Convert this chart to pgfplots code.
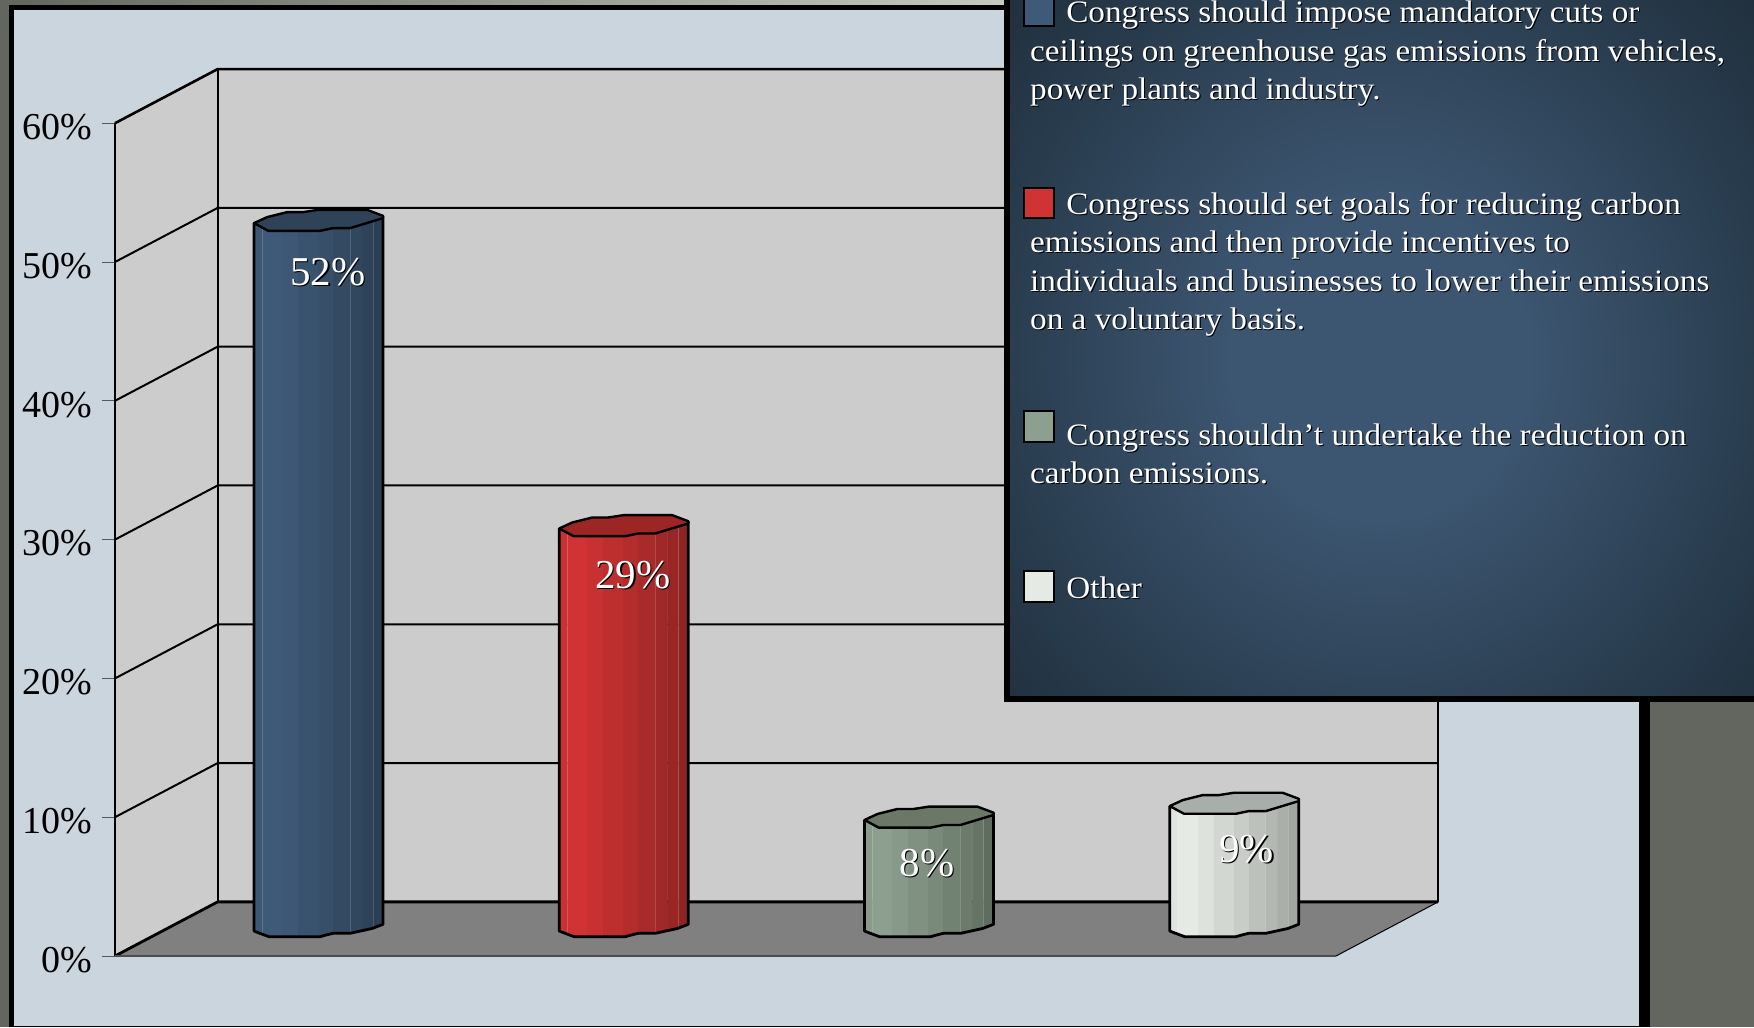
\documentclass[border=0pt]{standalone}
\usepackage{fontspec}
\setmainfont{Liberation Serif}
\newfontfamily\lgd[FakeStretch=1.065]{Liberation Serif}
\usepackage{pgfplots}
\pgfplotsset{compat=1.18}
\definecolor{bgc}{HTML}{62665F}
\definecolor{stripc}{HTML}{C4CAC0}
\definecolor{panelc}{HTML}{CBD5DE}
\definecolor{wallc}{HTML}{CCCCCC}
\definecolor{floorc}{HTML}{808080}
\definecolor{glowa}{HTML}{3C5570}
\definecolor{glowb}{HTML}{273A4B}
\definecolor{glowc}{HTML}{1C2935}
\definecolor{blueL}{HTML}{3F5A78}\definecolor{blueD}{HTML}{2B3F54}\definecolor{blueT}{HTML}{2E4258}
\definecolor{redL}{HTML}{CF3333}\definecolor{redD}{HTML}{8E2424}\definecolor{redT}{HTML}{9C2626}
\definecolor{greenL}{HTML}{8D9F8E}\definecolor{greenD}{HTML}{5F6D5F}\definecolor{greenT}{HTML}{6B7868}
\definecolor{greyL}{HTML}{E6EAE5}\definecolor{greyD}{HTML}{A1A5A0}\definecolor{greyT}{HTML}{A8AEA9}
\pgfdeclareradialshading{panelglow}{\pgfpointorigin}{color(0bp)=(glowa);color(10bp)=(glowa);color(27bp)=(glowb);color(38bp)=(glowc);color(100bp)=(glowc)}
% One stripe of a cylinder body: #1 category, #2 value, #3 colour, #4 #5 left/right offset (px),
% #6 #7 bottom offset at left/right (px), #8 top offset (px)
\newcommand\st[8]{\addplot[fill=#3,draw=#3,line width=.2pt] table[row sep=\\,
  x expr={#1+(\thisrow{d}-64.5)/305.25},
  y expr={1.8+\thisrow{k}*#2-\thisrow{o}/13.88}]
  {d o k\\ #4 #6 0\\ #5 #7 0\\ #5 #8 1\\ #4 #8 1\\} --cycle;}
% A cylinder: #1 category, #2 value, #3 light, #4 dark, #5 top
\newcommand\cyl[5]{%
  \st{#1}{#2}{#3!92!#4}{0}{8}{0}{3}{0}
  \st{#1}{#2}{#3}{8}{15}{3}{5.7}{0}
  \st{#1}{#2}{#3}{15}{28}{5.7}{5.7}{0}
  \st{#1}{#2}{#3!88!#4}{28}{44}{5.7}{5.7}{0}
  \st{#1}{#2}{#3!72!#4}{44}{64}{5.7}{5.7}{0}
  \st{#1}{#2}{#3!58!#4}{64}{66}{5.7}{5.7}{-4}
  \st{#1}{#2}{#3!58!#4}{66}{79}{5.7}{2.3}{-4}
  \st{#1}{#2}{#3!40!#4}{79}{96}{2.3}{2.3}{-4}
  \st{#1}{#2}{#3!28!#4}{96}{108}{2.3}{-1}{-4}
  \st{#1}{#2}{#3!15!#4}{108}{119}{-1}{-4}{-4}
  \st{#1}{#2}{#4}{119}{129}{-4}{-6.7}{-6.5}
  % thin highlights
  \addplot[white,opacity=.16,line width=.3pt] table[row sep=\\,x expr={#1+(\thisrow{d}-64.5)/305.25},y expr={1.8+\thisrow{k}*#2-\thisrow{o}/13.88}]{d o k\\ 8 3 0\\ 8 4 1\\};
  \addplot[white,opacity=.16,line width=.3pt] table[row sep=\\,x expr={#1+(\thisrow{d}-64.5)/305.25},y expr={1.8+\thisrow{k}*#2-\thisrow{o}/13.88}]{d o k\\ 96 2.3 0\\ 96 5 1\\};
  \addplot[white,opacity=.16,line width=.3pt] table[row sep=\\,x expr={#1+(\thisrow{d}-64.5)/305.25},y expr={1.8+\thisrow{k}*#2-\thisrow{o}/13.88}]{d o k\\ 119 -4 0\\ 119 -2 1\\};
  % outline of the body
  \addplot[black,line width=1.4pt,line join=round] table[row sep=\\,x expr={#1+(\thisrow{d}-64.5)/305.25},y expr={1.8+\thisrow{k}*#2-\thisrow{o}/13.88}]
   {d o k\\ 0 0 1\\ 0 0 0\\ 4 1.6 0\\ 15 5.7 0\\ 66 5.7 0\\ 72 4 0\\ 79 2.3 0\\ 96 2.3 0\\ 118 -2.5 0\\ 129 -6.7 0\\ 129 -7.3 1\\};
  % top face
  \addplot[fill=#5,draw=black,line width=1.2pt,line join=round] table[row sep=\\,x expr={#1+(\thisrow{d}-64.5)/305.25},y expr={1.8+\thisrow{k}*#2-\thisrow{o}/13.88}]
   {d o k\\ 0 0 1\\ 13 -6 1\\ 33 -11 1\\ 49 -11 1\\ 64 -13.3 1\\ 113 -13.3 1\\ 129 -7.3 1\\ 129 -5 1\\ 96 5 1\\ 79 5 1\\ 66 7.7 1\\ 14.3 7.7 1\\} --cycle;
}
\newcommand\lbl[3]{%
  \node[anchor=center,inner sep=0pt,text=black,font=\fontsize{20.5}{20.5}\selectfont] at (axis cs:#1,#2) [xshift=.6pt,yshift=-.6pt] {#3};
  \node[anchor=center,inner sep=0pt,text=white,font=\fontsize{20.5}{20.5}\selectfont] at (axis cs:#1,#2) {#3};}
\newcommand\lgl[3]{%
  \node[lg,text=black] at (#1,#2) [xshift=.55pt,yshift=-.55pt] {#3};
  \node[lg,text=white] at (#1,#2) {#3};}
\begin{document}
\begin{tikzpicture}
\path[use as bounding box] (-57.5pt,478pt) rectangle (819.5pt,-35.5pt);
\begin{scope}[shift={(-57.5pt,478pt)},x=0.5pt,y=-0.5pt]
  \fill[bgc] (0,0) rectangle (1754,1027);
  \shade[left color=bgc,right color=stripc] (0,0) rectangle (1004,5);
  \fill[black] (9,5) rectangle (1650,1027);
  \fill[panelc] (14,10) rectangle (1639,1025.5);
\end{scope}
\begin{axis}[
  scale only axis, width=610.5pt, height=416.4pt,
  xmin=-0.6667, xmax=3.3333, ymin=0, ymax=60, clip=false,
  axis y line*=left, axis x line=none,
  y axis line style={draw=none},
  ytick={0,10,20,30,40,50,60},
  yticklabels={0\%,10\%,20\%,30\%,40\%,50\%,60\%},
  tick align=outside, major tick length=6.67pt,
  y tick style={draw=black!65,line width=.5pt},
  yticklabel style={font=\fontsize{19}{19}\selectfont,anchor=east,inner sep=0pt,xshift=-4.7pt,yshift=-2pt,text=black},
]
% walls and floor
\addplot[draw=none,fill=wallc] coordinates {(-0.6667,0)(-0.3303,3.9)(-0.3303,63.9)(-0.6667,60)} --cycle;
\addplot[draw=none,fill=wallc] coordinates {(-0.3303,3.9)(3.668,3.9)(3.668,63.9)(-0.3303,63.9)} --cycle;
\addplot[draw=none,fill=floorc] coordinates {(-0.6667,0)(-0.3303,3.9)(3.668,3.9)(3.3333,0)} --cycle;
% grid lines
\addplot[black,line width=1pt] coordinates {(-0.6667,10)(-0.3303,13.9)(3.668,13.9)};
\addplot[black,line width=1pt] coordinates {(-0.6667,20)(-0.3303,23.9)(3.668,23.9)};
\addplot[black,line width=1pt] coordinates {(-0.6667,30)(-0.3303,33.9)(3.668,33.9)};
\addplot[black,line width=1pt] coordinates {(-0.6667,40)(-0.3303,43.9)(3.668,43.9)};
\addplot[black,line width=1pt] coordinates {(-0.6667,50)(-0.3303,53.9)(3.668,53.9)};
\addplot[black,line width=1.3pt] coordinates {(-0.6667,60)(-0.3303,63.9)(3.668,63.9)};
\addplot[black,line width=1pt] coordinates {(-0.6667,0)(-0.6667,60)};
\addplot[black,line width=1.1pt] coordinates {(-0.3303,3.9)(-0.3303,63.9)};
\addplot[black,line width=1.1pt] coordinates {(3.668,3.9)(3.668,63.9)};
\addplot[black,line width=1.4pt] coordinates {(-0.6667,0)(-0.3303,3.9)(3.668,3.9)};
\addplot[black,line width=.5pt] coordinates {(3.668,3.9)(3.3333,0)};
\addplot[black!70,line width=.6pt] coordinates {(-0.6667,0)(3.3333,0)};
% bars (the first is drawn to 51 on the axis scale, as the picture shows it; it is labelled 52%)
\cyl{0}{51}{blueL}{blueD}{blueT}
\cyl{1}{29}{redL}{redD}{redT}
\cyl{2}{8}{greenL}{greenD}{greenT}
\cyl{3}{9}{greyL}{greyD}{greyT}
\lbl{0.0308}{49.28}{52\%}
\lbl{1.030}{27.45}{29\%}
\lbl{1.993}{6.70}{8\%}
\lbl{3.041}{7.71}{9\%}
\end{axis}
\begin{scope}[shift={(-57.5pt,478pt)},x=0.5pt,y=-0.5pt]
  \begin{scope}
    \clip (1004,0) rectangle (1754,702);
    \shade[shading=panelglow] (1006,-40) rectangle (1756,760);
    \fill[black] (1004,0) rectangle (1009.6,702);
    \fill[black] (1004,696) rectangle (1754,702);
    \draw[black,line width=1pt,fill=blueL] (1023.6,-6) rectangle (1054.3,26);
  \end{scope}
  \draw[black,line width=1pt,fill=redL] (1023.6,187.7) rectangle (1054.3,218.3);
  \draw[black,line width=1pt,fill=greenL] (1023.6,411) rectangle (1054.3,442);
  \draw[black,line width=1pt,fill=greyL] (1023.6,571) rectangle (1054.3,602);
  \tikzset{lg/.style={anchor=base west,inner sep=0pt,yshift=-1.1pt,font=\lgd\fontsize{15.6}{15.6}\selectfont}}
  \lgl{1065.9}{20}{Congress should impose mandatory cuts or}
  \lgl{1029.8}{59}{ceilings on greenhouse gas emissions from vehicles,}
  \lgl{1029.8}{97.7}{power plants and industry.}
  \lgl{1065.9}{212}{Congress should set goals for reducing carbon}
  \lgl{1029.8}{250.7}{emissions and then provide incentives to}
  \lgl{1029.8}{289.3}{individuals and businesses to lower their emissions}
  \lgl{1029.8}{327.7}{on a voluntary basis.}
  \lgl{1065.9}{443.3}{Congress shouldn’t undertake the reduction on}
  \lgl{1029.8}{481.7}{carbon emissions.}
  \lgl{1065.9}{596.7}{Other}
\end{scope}
\end{tikzpicture}
\end{document}
